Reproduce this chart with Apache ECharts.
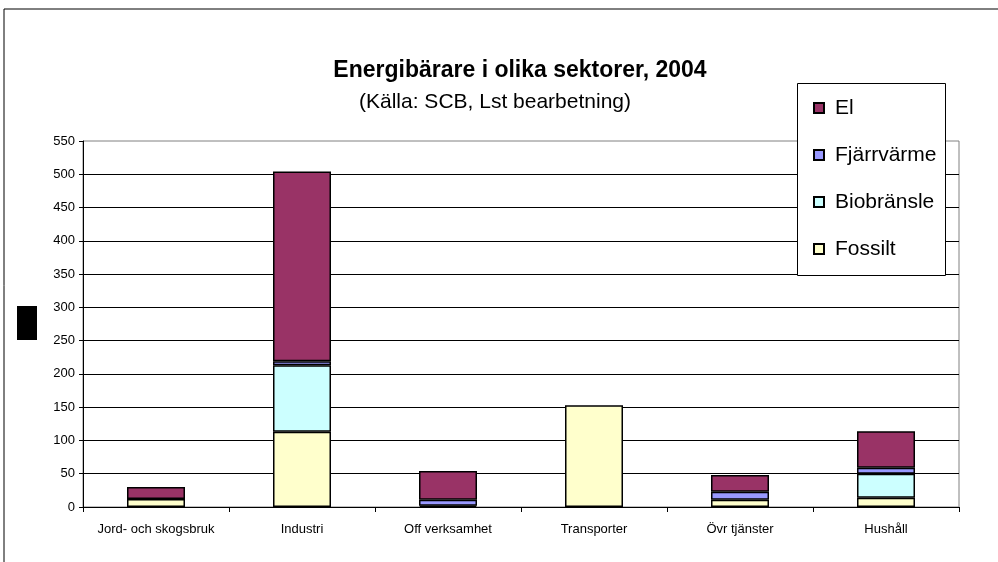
<!DOCTYPE html>
<html>
<head>
<meta charset="utf-8">
<script src="https://cdn.jsdelivr.net/npm/echarts@6/dist/echarts.min.js"></script>
<style>
  html, body { margin: 0; padding: 0; background: #fff; }
  #chart { width: 998px; height: 562px; }
</style>
</head>
<body>
<div id="chart"></div>
<script>
var categories = ['Jord- och skogsbruk', 'Industri', 'Off verksamhet', 'Transporter', 'Övr tjänster', 'Hushåll']
var fossilt = [12, 113, 2, 153, 11, 14]
var biobransle = [0, 100, 0, 0, 0, 36]
var fjarrvarme = [0, 6, 9, 0, 12, 9]
var el = [18, 285, 43, 0, 25, 55]
var legendOrder = ['El', 'Fjärrvärme', 'Biobränsle', 'Fossilt']

var FONT = 'Liberation Sans, Arial, sans-serif'
var BAR_BORDER = { borderColor: '#000', borderWidth: 1.5 }

// zero parts are left out so no empty outline is drawn
function skipZero(list) {
  return list.map(function (v) { return v === 0 ? '-' : v })
}

function barSeries(name, data, color) {
  return {
    name: name,
    type: 'bar',
    stack: 'total',
    data: skipZero(data),
    barWidth: 58,
    itemStyle: Object.assign({ color: color }, BAR_BORDER)
  }
}

var chart = echarts.init(document.getElementById('chart'))
chart.setOption({
  backgroundColor: '#fff',
  animation: false,
  textStyle: { fontFamily: FONT, color: '#000' },
  grid: {
    left: 83,
    right: 39,
    top: 141,
    bottom: 55,
    show: true,
    borderColor: '#808080',
    borderWidth: 1
  },
  legend: {
    data: legendOrder,
    orient: 'vertical',
    left: 808,
    top: 91,
    itemWidth: 10,
    itemHeight: 10,
    itemGap: 23,
    icon: 'rect',
    textStyle: { fontFamily: FONT, fontSize: 21, color: '#000', lineHeight: 24, padding: [0, 0, 0, 6] }
  },
  xAxis: {
    type: 'category',
    data: categories,
    axisLine: { lineStyle: { color: '#000', width: 1 } },
    axisTick: { show: true, length: 5, lineStyle: { color: '#000' } },
    axisLabel: { color: '#000', fontSize: 13, margin: 16, interval: 0 }
  },
  yAxis: {
    type: 'value',
    min: 0,
    max: 550,
    interval: 50,
    axisLine: { show: true, lineStyle: { color: '#000', width: 1 } },
    axisTick: { show: true, length: 4, lineStyle: { color: '#000' } },
    axisLabel: { color: '#000', fontSize: 13, margin: 8 },
    splitLine: { show: true, showMaxLine: false, lineStyle: { color: '#000', width: 1 } }
  },
  graphic: [
    { type: 'line', shape: { x1: 4, y1: 9, x2: 998, y2: 9 }, style: { stroke: '#000', lineWidth: 1 } },
    { type: 'line', shape: { x1: 4, y1: 9, x2: 4, y2: 562 }, style: { stroke: '#000', lineWidth: 1 } },
    { type: 'rect', shape: { x: 17, y: 306, width: 20, height: 34 }, style: { fill: '#000' } },
    {
      type: 'text', x: 520, y: 71,
      style: { text: 'Energibärare i olika sektorer, 2004', font: 'bold 23px ' + FONT, fill: '#000', textAlign: 'center', textVerticalAlign: 'middle' }
    },
    {
      type: 'text', x: 495, y: 102,
      style: { text: '(Källa: SCB, Lst bearbetning)', font: '21px ' + FONT, fill: '#000', textAlign: 'center', textVerticalAlign: 'middle' }
    },
    {
      type: 'rect', z: 1, shape: { x: 797.5, y: 83.5, width: 148, height: 192 },
      style: { fill: '#fff', stroke: '#000', lineWidth: 1 }
    }
  ],
  series: [
    barSeries('Fossilt', fossilt, '#FFFFCC'),
    barSeries('Biobränsle', biobransle, '#CCFFFF'),
    barSeries('Fjärrvärme', fjarrvarme, '#9999FF'),
    barSeries('El', el, '#993366')
  ]
})
</script>
</body>
</html>
